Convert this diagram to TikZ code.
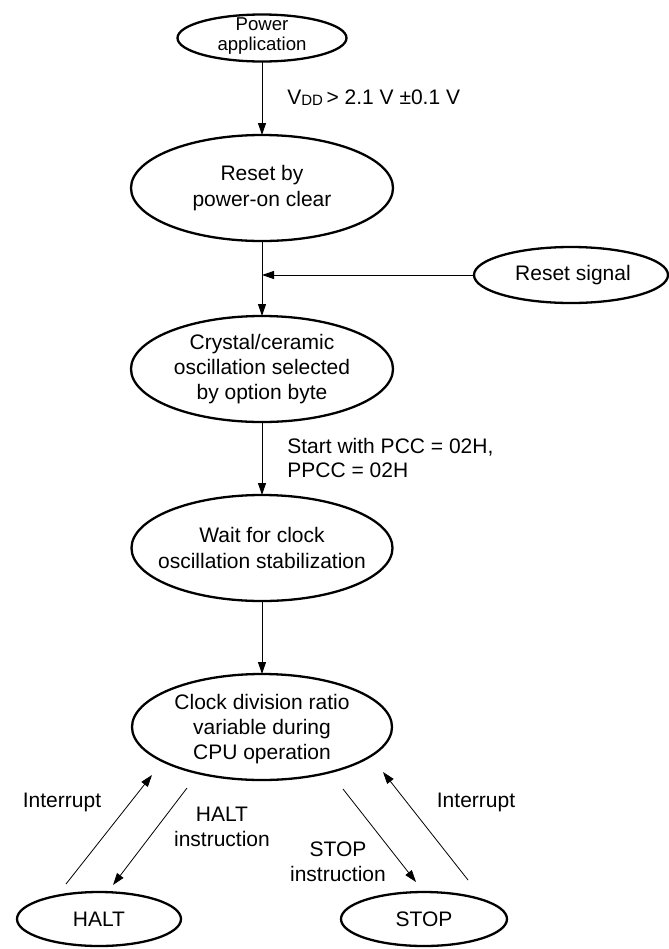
\documentclass[tikz,border=0pt]{standalone}
\usepackage{fontspec}
\setmainfont{Liberation Sans}
\usetikzlibrary{shapes.geometric,arrows.meta,calc}
\begin{document}
\begin{tikzpicture}[x=0.5pt,y=-0.5pt,
  font=\fontsize{10.5}{12.6}\selectfont,
  oval/.style={draw, ellipse, line width=1.15pt, inner sep=0pt, outer sep=0pt},
  txt/.style={align=center, inner sep=0pt},
  conn/.style={line width=0.5pt, -{Triangle[length=6pt,width=4pt]}},
  diag/.style={line width=0.4pt, -{Triangle[length=6pt,width=4pt]}},
  lbl/.style={align=left, inner sep=0pt, anchor=west}]
\useasboundingbox (0,0) rectangle (669,949);
% ellipses
\node[oval, minimum width=84.5pt, minimum height=23.5pt] (pwr) at (262,38) {};
\node[txt, font=\fontsize{9.3}{9.6}\selectfont] (pwrt) at (262,36) {Power\\application};
\node[oval, minimum width=131pt, minimum height=53pt] (rst) at (262,188) {};
\node[txt] (rstt) at (rst) {Reset by\\power-on clear};
\node[oval, minimum width=97pt, minimum height=28pt] (rsig) at (571,275) {};
\node[txt] (rsigt) at (573,275) {Reset signal};
\node[oval, minimum width=131pt, minimum height=53pt] (crys) at (262,369) {};
\node[txt] (cryst) at (crys) {Crystal/ceramic\\oscillation selected\\by option byte};
\node[oval, minimum width=130.5pt, minimum height=53pt] (wait) at (262,548) {};
\node[txt] (waitt) at (wait) {Wait for clock\\oscillation stabilization};
\node[oval, minimum width=130pt, minimum height=53pt] (clk) at (262,727) {};
\node[txt] (clkt) at (262,729) {Clock division ratio\\variable during\\CPU operation};
\node[oval, minimum width=82pt, minimum height=27pt] (halt) at (99,919) {};
\node[txt] (haltt) at (halt) {HALT};
\node[oval, minimum width=83pt, minimum height=27pt] (stop) at (424,919) {};
\node[txt] (stopt) at (stop) {STOP};
% vertical connectors
\coordinate (j) at (262,275);
\draw[conn] (pwr.south) -- (rst.north);
\draw[line width=0.5pt] (rst.south) -- (j);
\draw[conn] (j) -- (crys.north);
\draw[conn] (rsig.west) -- (j);
\draw[conn] (crys.south) -- (wait.north);
\draw[conn] (wait.south) -- (clk.north);
% diagonal connectors
\coordinate (i1s) at (66,884);  \coordinate (i1e) at (152,775);
\coordinate (h1s) at (187,788); \coordinate (h1e) at (113,885);
\coordinate (s1s) at (343,789); \coordinate (s1e) at (416,882);
\coordinate (i2s) at (468,880); \coordinate (i2e) at (383,772);
\draw[diag] (i1s) -- (i1e);
\draw[diag] (h1s) -- (h1e);
\draw[diag] (s1s) -- (s1e);
\draw[diag] (i2s) -- (i2e);
% labels
\node[lbl] (vdd) at (287,98) {V\raisebox{-0.4pt}{\fontsize{7.5}{9}\selectfont DD}\,{>}\ 2.1 V ±0.1 V};
\node[lbl, font=\fontsize{10.5}{12}\selectfont] (pcc) at (287,458) {Start with PCC = 02H,\\PPCC = 02H};
\node[txt] (int1) at (62,802) {Interrupt};
\node[txt] (hins) at (222,827) {HALT\\instruction};
\node[txt] (sins) at (338,862) {STOP\\instruction};
\node[txt] (int2) at (476,802) {Interrupt};
\end{tikzpicture}
\end{document}
